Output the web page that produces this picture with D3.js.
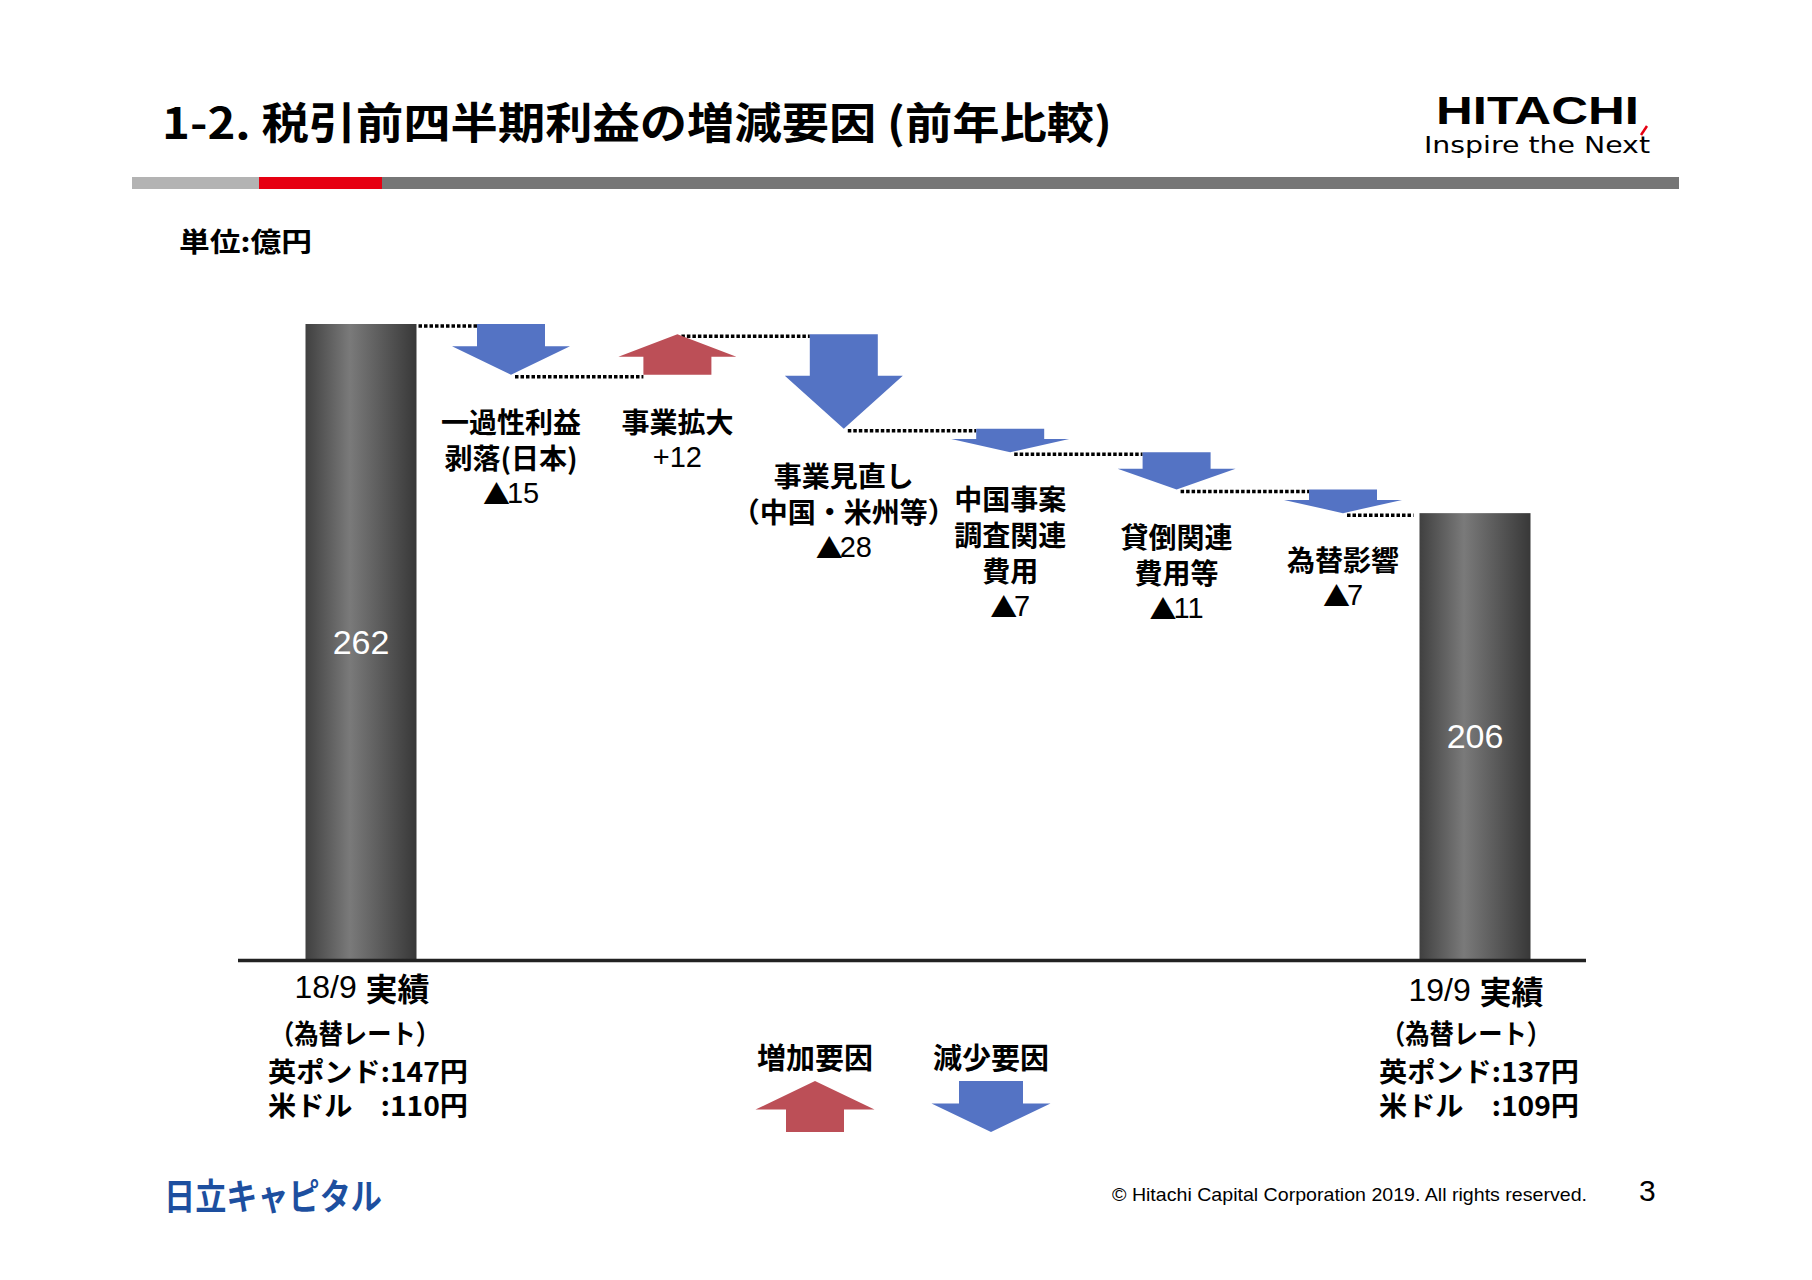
<!DOCTYPE html>
<html>
<head>
<meta charset="utf-8">
<script src="https://cdn.jsdelivr.net/npm/d3@7"></script>
<style>
  body { margin: 0; background: #fff; }
  svg { display: block; }
  .jp { font-family: "Noto Sans CJK JP", sans-serif; font-weight: 700; }
  .num { font-family: "Liberation Sans", Arial, "Noto Sans CJK JP", sans-serif; }
</style>
</head>
<body>
<svg id="chart"></svg>
<script>
// values (億円)
const totalLabels = ['18/9 実績', '19/9 実績'];
const totalValues = [262, 206];
const stepLabels = [
  ['一過性利益', '剥落(日本)'],
  ['事業拡大'],
  ['事業見直し', '（中国・米州等）'],
  ['中国事案', '調査関連', '費用'],
  ['貸倒関連', '費用等'],
  ['為替影響']
];
const stepValues = [-15, 12, -28, -7, -11, -7];
const stepValueLabels = ['▲15', '+12', '▲28', '▲7', '▲11', '▲7'];
const rateLines = [
  ['（為替レート）', '英ポンド:147円', '米ドル　:110円'],
  ['（為替レート）', '英ポンド:137円', '米ドル　:109円']
];
const legendLabels = ['増加要因', '減少要因'];

const width = 1812, height = 1280;
const blue = '#5473c4', red = '#bc4f57';

const svg = d3.select('#chart').attr('width', width).attr('height', height);

// header
svg.append('text').attr('class', 'jp')
  .attr('x', 162).attr('y', 120).attr('dominant-baseline', 'central')
  .attr('font-size', 43).attr('textLength', 950).attr('lengthAdjust', 'spacingAndGlyphs')
  .text('1-2. 税引前四半期利益の増減要因 (前年比較)');

svg.append('text')
  .attr('x', 1436).attr('y', 124)
  .attr('font-family', 'Liberation Sans, Arial, sans-serif').attr('font-weight', 700)
  .attr('font-size', 38).attr('textLength', 203).attr('lengthAdjust', 'spacingAndGlyphs')
  .text('HITACHI');
svg.append('text')
  .attr('x', 1424).attr('y', 153)
  .attr('font-family', 'DejaVu Sans, sans-serif')
  .attr('font-size', 23).attr('textLength', 226).attr('lengthAdjust', 'spacingAndGlyphs')
  .text('Inspire the Next');
svg.append('line')
  .attr('x1', 1641).attr('y1', 135).attr('x2', 1647).attr('y2', 126)
  .attr('stroke', '#e60012').attr('stroke-width', 2.5);

const band = [[132, 259, '#b3b3b3'], [259, 382, '#e60012'], [382, 1679, '#767676']];
svg.selectAll('rect.band').data(band).join('rect')
  .attr('x', d => d[0]).attr('y', 177).attr('width', d => d[1] - d[0]).attr('height', 12)
  .attr('fill', d => d[2]);

svg.append('text').attr('class', 'jp')
  .attr('x', 179).attr('y', 240).attr('dominant-baseline', 'central')
  .attr('font-size', 27).attr('textLength', 133).attr('lengthAdjust', 'spacingAndGlyphs')
  .text('単位:億円');

// gradient for totals
const grad = svg.append('defs').append('linearGradient').attr('id', 'barGrad')
  .attr('x1', 0).attr('x2', 1).attr('y1', 0).attr('y2', 0);
grad.append('stop').attr('offset', '0%').attr('stop-color', '#404040');
grad.append('stop').attr('offset', '40%').attr('stop-color', '#7a7a7a');
grad.append('stop').attr('offset', '100%').attr('stop-color', '#383838');

// scales
const y = d3.scaleLinear().domain([74, 262]).range([959, 324]);
const xTotal = d3.scalePoint().domain(totalLabels).range([361, 1475]);
const xStep = d3.scalePoint().domain(d3.range(stepValues.length)).range([511, 1343]);
const barW = 111, arrowW = 118, shaftW = 68;

// cumulative levels
const levels = [totalValues[0]];
stepValues.forEach(v => levels.push(levels[levels.length - 1] + v));

const steps = stepValues.map((v, i) => ({
  i, v, from: levels[i], to: levels[i + 1],
  label: stepLabels[i], valueLabel: stepValueLabels[i]
}));

function arrowPath(cx, top, bottom, up, w, s) {
  const h = bottom - top, head = h * 0.56;
  const p = up
    ? [[cx, top], [cx + w / 2, top + head], [cx + s / 2, top + head], [cx + s / 2, bottom],
       [cx - s / 2, bottom], [cx - s / 2, top + head], [cx - w / 2, top + head]]
    : [[cx - s / 2, top], [cx + s / 2, top], [cx + s / 2, bottom - head], [cx + w / 2, bottom - head],
       [cx, bottom], [cx - w / 2, bottom - head], [cx - s / 2, bottom - head]];
  return d3.line()(p) + 'Z';
}

// total bars
svg.selectAll('rect.total').data(totalValues).join('rect')
  .attr('x', (d, i) => xTotal(totalLabels[i]) - barW / 2)
  .attr('y', d => y(d))
  .attr('width', barW)
  .attr('height', d => y.range()[0] - y(d))
  .attr('fill', 'url(#barGrad)');

svg.selectAll('text.totalVal').data(totalValues).join('text')
  .attr('class', 'num')
  .attr('x', (d, i) => xTotal(totalLabels[i]))
  .attr('y', d => (y(d) + y.range()[0]) / 2)
  .attr('text-anchor', 'middle').attr('dominant-baseline', 'central')
  .attr('font-size', 34).attr('fill', '#fff')
  .text(d => d);

// dotted connectors
const conn = [];
conn.push({ x1: xTotal(totalLabels[0]) + barW / 2 + 2, x2: xStep(0) - shaftW / 2, lv: levels[0] });
steps.forEach((s, i) => {
  const x2 = i < steps.length - 1 ? xStep(i + 1) - shaftW / 2 : xTotal(totalLabels[1]) - barW / 2 - 6;
  conn.push({ x1: xStep(i) + 4, x2, lv: s.to });
});
svg.selectAll('line.conn').data(conn).join('line')
  .attr('x1', d => d.x1).attr('x2', d => d.x2)
  .attr('y1', d => y(d.lv) + 2).attr('y2', d => y(d.lv) + 2)
  .attr('stroke', '#000').attr('stroke-width', 3.5).attr('stroke-dasharray', '3.5 2');

// arrows
svg.selectAll('path.step').data(steps).join('path')
  .attr('d', d => arrowPath(xStep(d.i), y(Math.max(d.from, d.to)), y(Math.min(d.from, d.to)), d.v > 0, arrowW, shaftW))
  .attr('fill', d => d.v > 0 ? red : blue);

// step labels
const lineH = 36;
const lab = svg.selectAll('g.lab').data(steps).join('g')
  .attr('transform', d => `translate(${xStep(d.i)},${y(Math.min(d.from, d.to)) + 46})`);
lab.each(function (d) {
  const g = d3.select(this);
  d.label.forEach((t, k) => {
    g.append('text').attr('class', 'jp')
      .attr('y', k * lineH).attr('text-anchor', 'middle').attr('dominant-baseline', 'central')
      .attr('font-size', 28).text(t);
  });
  const vt = g.append('text').attr('class', 'num')
    .attr('y', d.label.length * lineH).attr('text-anchor', 'middle').attr('dominant-baseline', 'central')
    .attr('font-size', 29);
  const sym = d.valueLabel[0];
  if (sym === '▲') {
    vt.append('tspan').attr('font-family', 'Noto Sans CJK JP').attr('font-size', 27).attr('dx', 0).text(sym);
    vt.append('tspan').attr('dx', -3).text(d.valueLabel.slice(1));
  } else {
    vt.text(d.valueLabel);
  }
});

// axis baseline
svg.append('line')
  .attr('x1', 238).attr('x2', 1586).attr('y1', y.range()[0] + 1.5).attr('y2', y.range()[0] + 1.5)
  .attr('stroke', '#222').attr('stroke-width', 3.5);

// category labels under totals
totalLabels.forEach((t, i) => {
  const [a, b] = t.split(' ');
  const txt = svg.append('text')
    .attr('x', xTotal(t) + 1).attr('y', 987 + i * 3)
    .attr('text-anchor', 'middle').attr('dominant-baseline', 'central').attr('font-size', 32);
  txt.append('tspan').attr('class', 'num').text(a + ' ');
  txt.append('tspan').attr('class', 'jp').text(b);
});

// exchange rate notes
const rateX = [268, 1379];
rateLines.forEach((lines, i) => {
  lines.forEach((t, k) => {
    svg.append('text').attr('class', 'jp')
      .attr('x', rateX[i] + (k ? 0 : 2)).attr('y', [1032, 1070, 1104][k])
      .attr('dominant-baseline', 'central').attr('font-size', 27)
      .attr('textLength', k ? 200 : 170).attr('lengthAdjust', 'spacingAndGlyphs')
      .text(t);
  });
});

// legend
const legendX = [815, 991];
svg.selectAll('text.leg').data(legendLabels).join('text')
  .attr('class', 'jp')
  .attr('x', (d, i) => legendX[i]).attr('y', 1056)
  .attr('text-anchor', 'middle').attr('dominant-baseline', 'central')
  .attr('font-size', 29).text(d => d);
svg.selectAll('path.leg').data(legendLabels).join('path')
  .attr('d', (d, i) => arrowPath(legendX[i], 1081, 1132, i === 0, 119, i === 0 ? 58 : 64))
  .attr('fill', (d, i) => i === 0 ? red : blue);

// footer
svg.append('text')
  .attr('x', 164).attr('y', 1194).attr('dominant-baseline', 'central')
  .attr('font-family', 'Noto Sans CJK JP, sans-serif').attr('font-weight', 700)
  .attr('font-size', 36).attr('fill', '#1d4f9f')
  .attr('textLength', 218).attr('lengthAdjust', 'spacingAndGlyphs')
  .text('日立キャピタル');
svg.append('text').attr('class', 'num')
  .attr('x', 1112).attr('y', 1201)
  .attr('font-size', 19).attr('textLength', 475).attr('lengthAdjust', 'spacingAndGlyphs')
  .text('© Hitachi Capital Corporation  2019. All rights reserved.');
svg.append('text').attr('class', 'num')
  .attr('x', 1639).attr('y', 1201)
  .attr('font-size', 30).text('3');
</script>
</body>
</html>
